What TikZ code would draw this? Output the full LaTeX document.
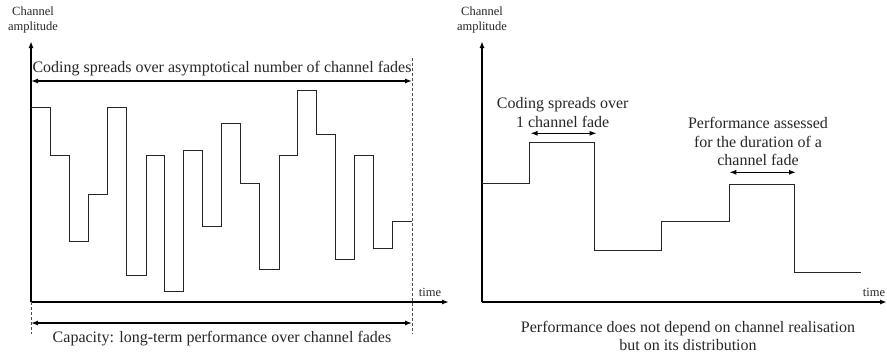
\documentclass[tikz,border=0pt]{standalone}
\usepackage{fontspec}
\setmainfont{Liberation Serif}
\usetikzlibrary{arrows.meta}
\begin{document}
\begin{tikzpicture}[x=1pt,y=-1pt,
  axis/.style={line width=1.4pt,-{Latex[length=7pt,width=5pt]}},
  sig/.style={line width=1pt, black!85},
  dim/.style={line width=1.3pt,{Latex[length=7pt,width=5pt]}-{Latex[length=7pt,width=5pt]}},
  guide/.style={line width=0.8pt,dashed,dash pattern=on 3pt off 2pt, black!70},
  lbl/.style={font=\fontsize{16}{18.5}\selectfont, inner sep=0pt, align=center, text=black!85},
  small/.style={font=\fontsize{12.5}{15}\selectfont, inner sep=0pt, align=center, text=black!85}]
\useasboundingbox (0,0) rectangle (887,356);
% ---------- left plot ----------
\coordinate (O1) at (31,302);
\coordinate (Y1) at (31,41);
\coordinate (X1) at (449,302);
\draw[axis] (O1) -- (Y1);
\draw[axis] (O1) -- (X1);
\node[small] (amp1) at (33,20) {Channel\\amplitude};
\node[small] (time1) at (430,292) {time};
\coordinate (D1t) at (412,58);
\coordinate (D1b) at (412,334);
\coordinate (D0b) at (31,334);
\draw[guide] (D1t) -- (D1b);
\draw[guide] (O1) -- (D0b);
\coordinate (A1l) at (31,81);
\coordinate (A1r) at (412,81);
\draw[dim] (A1l) -- (A1r);
\node[lbl] (t1) at (222,69) {Coding spreads over asymptotical number of channel fades};
\coordinate (B1l) at (31,323);
\coordinate (B1r) at (412,323);
\draw[dim] (B1l) -- (B1r);
\node[lbl] (t2) at (222,339) {Capacity: long-term performance over channel fades};
\draw[sig] (31,107.3) -| (50.7,155.7) -| (69.3,241.7) -| (88.3,194) -| (107.7,107.3)
  -| (126.7,275.7) -| (146,155.7) -| (164.7,291.7) -| (183.3,150.7) -| (202.3,226.7)
  -| (221.7,123.3) -| (240.7,183.3) -| (259.3,269.3) -| (279,155.7) -| (297.7,90.7)
  -| (316,134.3) -| (335,259) -| (354.3,155.7) -| (373.3,248.3) -| (392.3,221) -- (411.7,221);
% ---------- right plot ----------
\coordinate (O2) at (482,302);
\coordinate (Y2) at (482,41);
\coordinate (X2) at (887,302);
\draw[axis] (O2) -- (Y2);
\draw[axis] (O2) -- (X2);
\node[small] (amp2) at (482,20) {Channel\\amplitude};
\node[small] (time2) at (874,292) {time};
\draw[sig] (482,183.3) -| (529,142.3) -| (594.3,250.7) -| (661.7,221) -| (729,184.3)
  -| (794,272.3) -- (860.7,272.3);
\coordinate (C1l) at (530.5,133.3);
\coordinate (C1r) at (596.7,133.3);
\draw[dim] (C1l) -- (C1r);
\node[lbl] (t3) at (562.7,112.5) {Coding spreads over\\1 channel fade};
\coordinate (C2l) at (729.3,172.3);
\coordinate (C2r) at (796,172.3);
\draw[dim] (C2l) -- (C2r);
\node[lbl] (t4) at (758,141.5) {Performance assessed\\for the duration of a\\channel fade};
\node[lbl] (t5) at (688,336) {Performance does not depend on channel realisation\\but on its distribution};
\end{tikzpicture}
\end{document}
